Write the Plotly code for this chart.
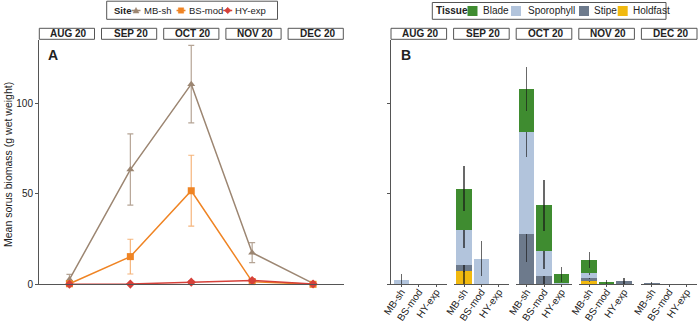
import plotly.graph_objects as go

W, H = 700, 323

months = ["AUG 20", "SEP 20", "OCT 20", "NOV 20", "DEC 20"]
sites = ["MB-sh", "BS-mod", "HY-exp"]
tissues = ["Holdfast", "Stipe", "Sporophyll", "Blade"]
yticks = [0, 50, 100]

# ---- Panel A: mean sorus biomass per site ----
mb_mean = [2.7, 63.4, 110.6, 17.5, 0.5]
mb_se = [2.8, 19.7, 21.4, 5.5, 0.5]
bs_mean = [0.3, 15.3, 51.7, 1.5, 0.0]
bs_se = [0.4, 9.6, 19.6, 0.8, 0.0]
hy_mean = [0.0, 0.1, 1.2, 2.1, 0.2]
hy_se = [0.0, 0.1, 0.8, 0.8, 0.2]

# ---- Panel B: tissue composition, rows = months, cols = sites ----
blade = [[0, 0, 0], [22.7, 0, 0], [23.8, 25.4, 5.0], [7.3, 1.0, 0], [0, 0, 0]]
blade_se = [[0, 0, 0], [12.5, 0, 0], [12.1, 14.2, 4.2], [4.3, 1.0, 0], [0, 0, 0]]
sporophyll = [[2.4, 0, 0], [19.7, 14.2, 0], [56.5, 13.8, 0.3], [2.6, 0, 0], [0, 0, 0]]
sporophyll_se = [[3.1, 0, 0], [10.0, 9.8, 0], [13.8, 10.0, 0], [1.0, 0, 0], [0, 0, 0]]
stipe = [[0, 0, 0], [3.2, 0, 0], [27.6, 4.4, 0.3], [1.5, 0.3, 1.8], [0.6, 0, 0]]
stipe_se = [[0, 0, 0], [3.7, 0, 0], [15.0, 4.3, 0], [0.8, 0, 1.5], [0.9, 0, 0]]
holdfast = [[0, 0, 0], [7.3, 0, 0], [0, 0, 0], [2.0, 0, 0], [0, 0, 0]]
holdfast_se = [[0, 0, 0], [7.0, 0, 0], [0, 0, 0], [1.0, 0, 0], [0, 0, 0]]

site_colors = {"MB-sh": "#9c8672", "BS-mod": "#ef8424", "HY-exp": "#d6413a"}
site_err = {"MB-sh": "rgba(156,134,114,0.75)", "BS-mod": "rgba(239,132,36,0.6)",
            "HY-exp": "rgba(214,65,58,0.6)"}
site_symbols = {"MB-sh": "triangle-up", "BS-mod": "square", "HY-exp": "diamond"}
tissue_colors = {"Blade": "#3f8c30", "Sporophyll": "#b2c4dc",
                 "Stipe": "#6d7a8c", "Holdfast": "#f1b90f"}
tissue_vals = {"Blade": (blade, blade_se), "Sporophyll": (sporophyll, sporophyll_se),
               "Stipe": (stipe, stipe_se), "Holdfast": (holdfast, holdfast_se)}

AX = "#555555"
TXT = "#222222"
FONT = "Liberation Sans, Arial, sans-serif"


def px(x):
    return x / W


def py(y):
    return 1 - y / H


fig = go.Figure()

ydom = [py(284.3), py(40)]
yrange = [0, 135]

# Panel A traces
for name, m, se in [("MB-sh", mb_mean, mb_se), ("BS-mod", bs_mean, bs_se), ("HY-exp", hy_mean, hy_se)]:
    fig.add_trace(go.Scatter(
        x=list(range(len(months))), y=m, mode="lines+markers", name=name,
        line=dict(color=site_colors[name], width=1.5),
        marker=dict(symbol=site_symbols[name], size=7, color=site_colors[name]),
        error_y=dict(type="data", array=se, visible=True, color=site_err[name],
                     thickness=1.2, width=3),
        cliponaxis=False, showlegend=False, xaxis="x", yaxis="y"))

layout = dict(
    template="none",
    width=W, height=H, margin=dict(l=0, r=0, t=0, b=0, pad=0), autosize=False,
    paper_bgcolor="white", plot_bgcolor="white",
    font=dict(family=FONT, size=10, color=TXT),
    barmode="stack", bargap=0.1, showlegend=False,
    xaxis=dict(domain=[px(39), px(343.5)], range=[-0.5, 4.5], showline=True, linecolor=AX,
               linewidth=1, showticklabels=False, ticks="", showgrid=False, zeroline=False,
               automargin=False),
    yaxis=dict(domain=ydom, range=yrange, showline=True, linecolor=AX, linewidth=1,
               tickvals=yticks, ticks="outside", ticklen=3, tickcolor=AX,
               tickfont=dict(size=10, color=TXT), showgrid=False, zeroline=False,
               automargin=False),
)

# Panel B facets
bx0, bx1, gap = 391, 697, 7
fw = (bx1 - bx0 - 4 * gap) / 5
for i, mon in enumerate(months):
    k = i + 2
    xa, ya = f"x{k}", f"y{k}"
    x0 = bx0 + i * (fw + gap)
    layout[f"xaxis{k}"] = dict(
        domain=[px(x0), px(x0 + fw)], type="category", categoryorder="array",
        categoryarray=sites, range=[-0.6, 2.6], showline=True, linecolor=AX, linewidth=1,
        ticks="outside", ticklen=2, tickcolor=AX, tickangle=-55, ticklabelstandoff=-5,
        tickfont=dict(size=10, color=TXT), showgrid=False, zeroline=False, anchor=ya,
        automargin=False)
    yax = dict(domain=ydom, range=yrange, showgrid=False, zeroline=False,
               showticklabels=False, anchor=xa, automargin=False)
    if i == 0:
        yax.update(showline=True, linecolor=AX, linewidth=1, tickvals=yticks,
                   ticks="outside", ticklen=3, tickcolor=AX)
    else:
        yax.update(showline=False, ticks="")
    layout[f"yaxis{k}"] = yax
    for t in tissues:
        vals, ses = tissue_vals[t]
        fig.add_trace(go.Bar(
            x=sites, y=vals[i], name=t, marker=dict(color=tissue_colors[t], line=dict(width=0)),
            error_y=dict(type="data", array=ses[i], visible=True,
                         color="rgba(25,25,25,0.65)", thickness=1.1, width=0),
            showlegend=False, xaxis=xa, yaxis=ya))

fig.update_layout(**layout)

shapes = []
annotations = []

# facet strips
def strip(x0, x1, label):
    shapes.append(dict(type="rect", xref="paper", yref="paper", x0=px(x0), x1=px(x1),
                       y0=py(39.3), y1=py(28.3), line=dict(color=AX, width=1),
                       fillcolor="white", layer="above"))
    annotations.append(dict(text=f"<b>{label}</b>", xref="paper", yref="paper",
                            x=px((x0 + x1) / 2 + 1.5), y=py(33.8), showarrow=False,
                            xanchor="center", yanchor="middle",
                            font=dict(size=10, color=TXT)))

ax0, ax1 = 39.3, 343.3
afw = (ax1 - ax0 - 4 * gap) / 5
for i, mon in enumerate(months):
    a = ax0 + i * (afw + gap)
    strip(a, a + afw, mon)
    b = bx0 + i * (fw + gap)
    strip(b, b + fw, mon)

# panel letters
annotations.append(dict(text="<b>A</b>", xref="paper", yref="paper", x=px(46), y=py(55),
                        showarrow=False, xanchor="left", yanchor="middle",
                        font=dict(size=14, color=TXT)))
annotations.append(dict(text="<b>B</b>", xref="paper", yref="paper", x=px(399), y=py(55),
                        showarrow=False, xanchor="left", yanchor="middle",
                        font=dict(size=14, color=TXT)))

# y-axis title
annotations.append(dict(text="Mean sorus biomass (g wet weight)", xref="paper", yref="paper",
                        x=px(8), y=py(165), textangle=-90, showarrow=False,
                        xanchor="center", yanchor="middle", font=dict(size=10.5, color=TXT)))

# Legend A (Site)
shapes.append(dict(type="rect", xref="paper", yref="paper", x0=px(106.7), x1=px(277.5),
                   y0=py(19.3), y1=py(1.2), line=dict(color=AX, width=1), fillcolor="white"))
ly = 10.5
annotations.append(dict(text="<b>Site</b>", xref="paper", yref="paper", x=px(111.5), y=py(ly),
                        showarrow=False, xanchor="left", yanchor="middle", font=dict(size=9.5)))
leg_a = [("MB-sh", 136.0, 141.5), ("BS-mod", 181.0, 187.0), ("HY-exp", 227.7, 233.0)]
for name, cx, tx in leg_a:
    c = site_colors[name]
    shapes.append(dict(type="line", xref="paper", yref="paper", x0=px(cx - 4.5), x1=px(cx + 4.5),
                       y0=py(ly), y1=py(ly), line=dict(color=c, width=1.5)))
    if name == "MB-sh":
        path = f"M {px(cx-3)} {py(ly+2.5)} L {px(cx+3)} {py(ly+2.5)} L {px(cx)} {py(ly-3)} Z"
    elif name == "BS-mod":
        path = f"M {px(cx-2.7)} {py(ly+2.7)} L {px(cx+2.7)} {py(ly+2.7)} L {px(cx+2.7)} {py(ly-2.7)} L {px(cx-2.7)} {py(ly-2.7)} Z"
    else:
        path = f"M {px(cx-3.2)} {py(ly)} L {px(cx)} {py(ly+3.2)} L {px(cx+3.2)} {py(ly)} L {px(cx)} {py(ly-3.2)} Z"
    shapes.append(dict(type="path", xref="paper", yref="paper", path=path,
                       fillcolor=c, line=dict(color=c, width=0.5)))
    annotations.append(dict(text=name, xref="paper", yref="paper", x=px(tx), y=py(ly),
                            showarrow=False, xanchor="left", yanchor="middle",
                            font=dict(size=9.5)))

# Legend B (Tissue)
shapes.append(dict(type="rect", xref="paper", yref="paper", x0=px(432.3), x1=px(666),
                   y0=py(19.3), y1=py(2.5), line=dict(color=AX, width=1), fillcolor="white"))
ly = 11
annotations.append(dict(text="<b>Tissue</b>", xref="paper", yref="paper", x=px(433.5), y=py(ly),
                        showarrow=False, xanchor="left", yanchor="middle", font=dict(size=10)))
leg_b = [("Blade", 467.5, 480.5), ("Sporophyll", 511, 525.5), ("Stipe", 579, 592), ("Holdfast", 617.7, 630.5)]
for name, sx, tx in leg_b:
    shapes.append(dict(type="rect", xref="paper", yref="paper", x0=px(sx), x1=px(sx + 10),
                       y0=py(ly + 5), y1=py(ly - 5), line=dict(width=0),
                       fillcolor=tissue_colors[name]))
    annotations.append(dict(text=name, xref="paper", yref="paper", x=px(tx), y=py(ly),
                            showarrow=False, xanchor="left", yanchor="middle",
                            font=dict(size=10)))

fig.update_layout(shapes=shapes, annotations=annotations)
fig.write_html("out.html", config={"displayModeBar": False},
               post_script="document.body.style.margin='0';document.body.style.overflow='hidden';")
